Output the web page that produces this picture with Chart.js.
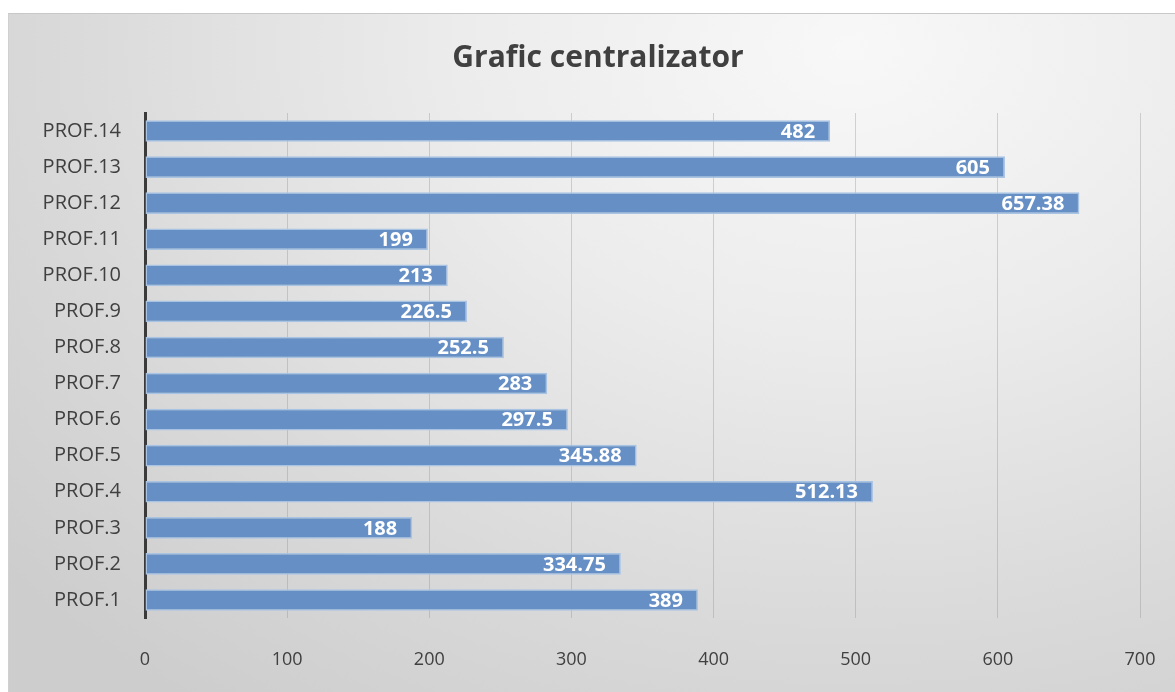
<!DOCTYPE html>
<html>
<head>
<meta charset="utf-8">
<script src="https://cdn.jsdelivr.net/npm/chart.js@4"></script>
<style>
    html, body { margin: 0; padding: 0; background: #ffffff; }
    #wrap {
        position: absolute;
        left: 8px;
        top: 13px;
        width: 1167px;
        height: 679px;
        border-top: 1px solid #c8c8c8;
        border-left: 1px solid #d0d0d0;
        box-sizing: border-box;
        background: radial-gradient(ellipse 95% 120% at 72% 5%, #f8f8f8 0%, #ececec 35%, #dadada 70%, #cdcdcd 100%);
    }
</style>
</head>
<body>
<div id="wrap"><canvas id="grafic"></canvas></div>
<script>
// Datos del grafico
const titlu = "Grafic centralizator";
const profesori = ["PROF.1", "PROF.2", "PROF.3", "PROF.4", "PROF.5", "PROF.6", "PROF.7",
    "PROF.8", "PROF.9", "PROF.10", "PROF.11", "PROF.12", "PROF.13", "PROF.14"];
const valori = [389, 334.75, 188, 512.13, 345.88, 297.5, 283, 252.5, 226.5, 213, 199, 657.38, 605, 482];
const axaMin = 0;
const axaMax = 700;
const pas = 100;

// Titlul, centrat pe tot graficul
const titluGrafic = {
    id: "titluGrafic",
    afterDraw(chart) {
        const ctx = chart.ctx;
        ctx.save();
        ctx.fillStyle = "#404040";
        ctx.font = "bold 30px 'Open Sans', sans-serif";
        ctx.textAlign = "center";
        ctx.textBaseline = "middle";
        ctx.fillText(titlu, chart.width / 2 + 6, 44);
        ctx.restore();
    },
};

// Etichete albe in capatul barelor
const eticheteBare = {
    id: "eticheteBare",
    afterDatasetsDraw(chart) {
        const ctx = chart.ctx;
        const meta = chart.getDatasetMeta(0);
        ctx.save();
        ctx.fillStyle = "#ffffff";
        ctx.font = "bold 20px 'Open Sans', sans-serif";
        ctx.textAlign = "right";
        ctx.textBaseline = "middle";
        meta.data.forEach(function (bar, i) {
            ctx.fillText(String(valori[i]), bar.x - 15, bar.y + 1);
        });
        ctx.restore();
    },
};

const ctx = document.getElementById("grafic").getContext("2d");
new Chart(ctx, {
    type: "bar",
    data: {
        labels: profesori,
        datasets: [
            {
                data: valori,
                backgroundColor: "#6690c5",
                borderColor: "#a9c3e3",
                borderWidth: 1.5,
                borderSkipped: false,
                barPercentage: 0.6,
                categoryPercentage: 1.0,
            },
        ],
    },
    options: {
        indexAxis: "y",
        responsive: true,
        maintainAspectRatio: false,
        animation: false,
        layout: {
            padding: { left: 0, right: 35, top: 99, bottom: 0 },
        },
        plugins: {
            legend: { display: false },
            tooltip: { enabled: false },
            title: { display: false },
        },
        scales: {
            x: {
                min: axaMin,
                max: axaMax,
                ticks: {
                    stepSize: pas,
                    color: "#404040",
                    padding: 31,
                    font: { family: "'Open Sans', sans-serif", size: 18 },
                },
                grid: {
                    color: "rgba(140,140,140,0.35)",
                    lineWidth: 1,
                    drawTicks: false,
                },
                border: { display: false },
                afterFit: function (scale) {
                    scale.height = 74;
                    scale.paddingLeft = 0;
                    scale.paddingRight = 0;
                },
            },
            y: {
                reverse: true,
                ticks: {
                    color: "#404040",
                    padding: 24,
                    font: { family: "'Open Sans', sans-serif", size: 20 },
                },
                grid: { display: false, drawTicks: false },
                border: { display: true, color: "#3a3a3a", width: 3 },
                afterFit: function (scale) {
                    scale.width = 136;
                    scale.paddingTop = 0;
                    scale.paddingBottom = 0;
                },
            },
        },
    },
    plugins: [eticheteBare, titluGrafic],
});
</script>
</body>
</html>
